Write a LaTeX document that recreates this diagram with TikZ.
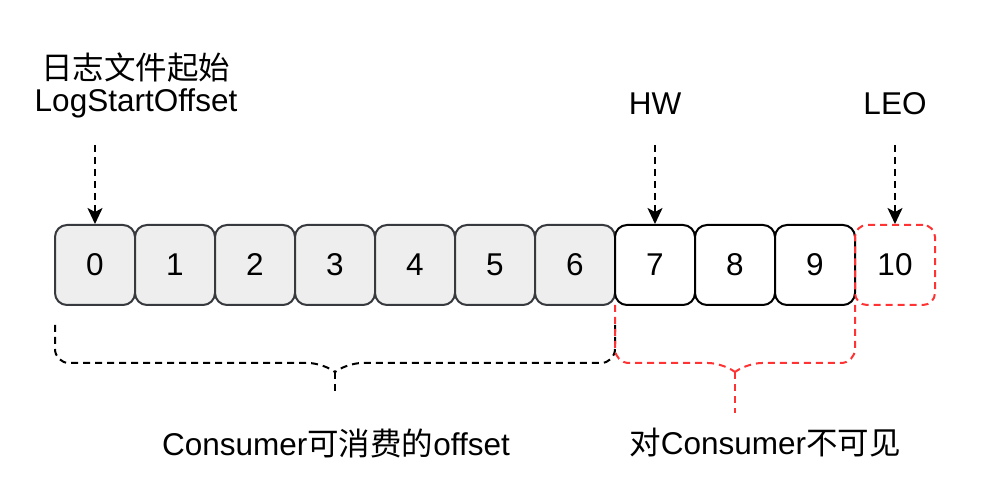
\documentclass[tikz,border=0pt]{standalone}
\usepackage{fontspec}
\setmainfont{Liberation Sans}
\newfontfamily\cjk{Noto Sans CJK SC}
\usetikzlibrary{arrows.meta}
\definecolor{cellfill}{HTML}{EEEEEE}
\definecolor{cellline}{HTML}{36393D}
\definecolor{redline}{HTML}{FF3333}
\tikzset{
  cell/.style={draw=cellline, fill=cellfill, line width=2pt, rounded corners=12pt,
    minimum width=80pt, minimum height=80pt, inner sep=0pt, font=\fontsize{31.5}{37}\selectfont},
  wcell/.style={cell, draw=black, fill=white},
  rcell/.style={cell, draw=redline, fill=none, dash pattern=on 7pt off 5pt},
  lbl/.style={inner sep=0pt, font=\fontsize{31.5}{37}\selectfont, align=center},
  ptr/.style={line width=2pt, dash pattern=on 7pt off 5pt, -{Stealth[length=16pt,width=15pt,inset=4pt]}},
  brace/.style={line width=2pt, dash pattern=on 7pt off 5pt, rounded corners=14pt},
}
\begin{document}
\begin{tikzpicture}[x=1pt,y=-1pt]
\useasboundingbox (0,0) rectangle (986,502);
\foreach \i in {0,...,6} { \node[cell] (b\i) at (95+80*\i,265) {\i}; }
\foreach \i in {7,8,9} { \node[wcell] (b\i) at (95+80*\i,265) {\i}; }
\node[rcell] (b10) at (895,265) {10};
\node[lbl] (t0a) at (136,68) {\cjk 日志文件起始};
\node[lbl] (t0b) at (136,103) {LogStartOffset};
\node[lbl] (thw) at (655,104) {HW};
\node[lbl] (tleo) at (895,104) {LEO};
\coordinate (a0) at (95,145);
\coordinate (a7) at (655,145);
\coordinate (a10) at (895,145);
\draw[ptr] (a0) -- (b0.north);
\draw[ptr] (a7) -- (b7.north);
\draw[ptr] (a10) -- (b10.north);
% black brace
\draw[brace] (55,325) -- (55,363) -- (322,363) -- (335,372);
\draw[brace] (615,325) -- (615,363) -- (348,363) -- (335,372);
\draw[line width=2pt, dash pattern=on 7pt off 5pt] (335,372) -- (335,395);
% red brace
\draw[brace, draw=redline] (615,305) -- (615,363) -- (722,363) -- (735,372);
\draw[brace, draw=redline] (855,305) -- (855,363) -- (748,363) -- (735,372);
\draw[line width=2pt, dash pattern=on 7pt off 5pt, draw=redline] (735,372) -- (735,413);
\node[lbl] (tl) at (336,443) {Consumer{\cjk 可消费的}offset};
\node[lbl] (tr) at (765,443) {{\cjk 对}Consumer{\cjk 不可见}};
\end{tikzpicture}
\end{document}
